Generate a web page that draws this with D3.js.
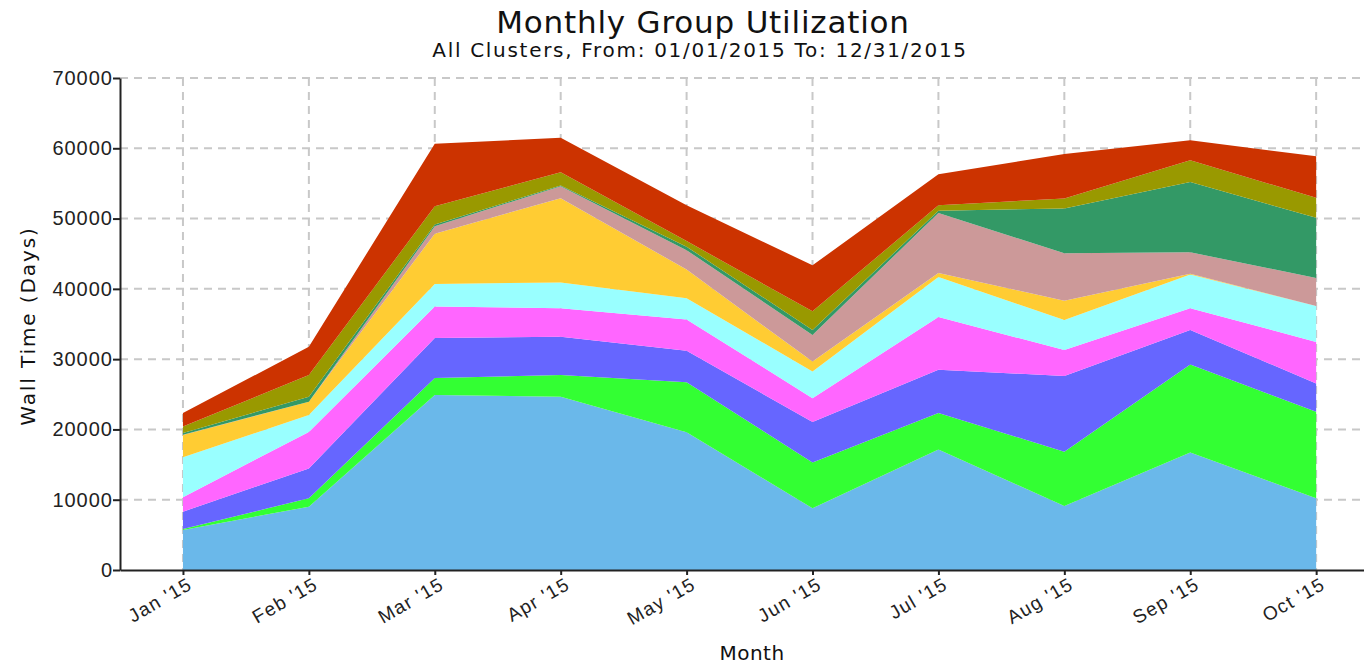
<!DOCTYPE html>
<html>
<head>
<meta charset="utf-8">
<script src="https://cdn.jsdelivr.net/npm/d3@7"></script>
<style>
  body { margin: 0; background: #fff; }
  svg { display: block; font-family: "DejaVu Sans", Verdana, sans-serif; }
  .grid line { stroke: #c8c8c8; stroke-width: 2; stroke-dasharray: 8,6; }
  .axis path, .axis line { stroke: #222; stroke-width: 2; }
  .axis text { fill: #222; }
</style>
</head>
<body>
<svg id="svg1" width="1364" height="667"></svg>
<script>
var months = ["Jan '15", "Feb '15", "Mar '15", "Apr '15", "May '15", "Jun '15", "Jul '15", "Aug '15", "Sep '15", "Oct '15"];
var yTicks = [0, 10000, 20000, 30000, 40000, 50000, 60000, 70000];

// one array per group, bottom of the stack first
var group1 = [5700, 9000, 24900, 24650, 19600, 8800, 17150, 9100, 16700, 10200];
var group2 = [150, 1200, 2400, 3100, 7100, 6500, 5200, 7730, 12550, 12300];
var group3 = [2450, 4250, 5700, 5450, 4500, 5750, 6150, 10770, 4900, 4050];
var group4 = [2050, 5200, 4500, 4050, 4450, 3400, 7500, 3690, 3100, 5900];
var group5 = [5700, 2400, 3200, 3650, 3000, 3800, 5700, 4270, 4800, 5100];
var group6 = [3150, 1900, 7150, 12000, 4100, 1400, 550, 2750, 100, 0];
var group7 = [50, 0, 1050, 1700, 2750, 3800, 8550, 6740, 3050, 4000];
var group8 = [250, 700, 250, 100, 500, 700, 300, 6400, 10000, 8550];
var group9 = [900, 3100, 2600, 1900, 800, 2650, 800, 1420, 3100, 2850];
var group10 = [1950, 4000, 8900, 4900, 5100, 6550, 4400, 6300, 2850, 5900];

var groups = [group1, group2, group3, group4, group5, group6, group7, group8, group9, group10];
var colors = ["#6ab8ea", "#33ff33", "#6666ff", "#ff66ff", "#99ffff", "#ffcc33", "#cc9999", "#339966", "#999900", "#cc3300"];

var marginLeft = 120;
var marginTop = 78;
var plotBottom = 570;

var svg = d3.select("#svg1");

var scaleX = d3.scaleLinear().domain([-0.5, 9.38]).range([marginLeft, 1364]);
var scaleY = d3.scaleLinear().domain([0, 70000]).range([plotBottom, marginTop]);

// turn the arrays into rows for d3.stack
var rows = months.map(function(m, i) {
    var row = { i: i };
    groups.forEach(function(g, k) { row["g" + k] = g[i]; });
    return row;
});
var keys = groups.map(function(g, k) { return "g" + k; });
var stacked = d3.stack().keys(keys)(rows);

// grid
var grid = svg.append("g").attr("class", "grid");
grid.selectAll(".hline")
    .data(yTicks.slice(1))
    .enter()
    .append("line")
      .attr("x1", marginLeft)
      .attr("x2", 1364)
      .attr("y1", function(d) { return scaleY(d); })
      .attr("y2", function(d) { return scaleY(d); });
grid.selectAll(".vline")
    .data(months)
    .enter()
    .append("line")
      .attr("x1", function(d, i) { return scaleX(i); })
      .attr("x2", function(d, i) { return scaleX(i); })
      .attr("y1", marginTop)
      .attr("y2", plotBottom);

var area = d3.area()
    .x(function(d) { return scaleX(d.data.i); })
    .y0(function(d) { return scaleY(d[0]); })
    .y1(function(d) { return scaleY(d[1]); });

svg.selectAll(".layer")
    .data(stacked)
    .enter()
    .append("path")
      .attr("class", "layer")
      .attr("d", area)
      .attr("fill", function(d, i) { return colors[i]; });

// axes
svg.append("g")
    .attr("class", "axis")
    .attr("transform", "translate(" + marginLeft + ",0)")
    .call(d3.axisLeft(scaleY).tickValues(yTicks).tickSize(7).tickSizeOuter(0).tickFormat(d3.format("d")))
    .selectAll("text")
      .style("font-size", "20px")
      .style("letter-spacing", "1px")
      .attr("x", -7);

var xAxis = svg.append("g")
    .attr("class", "axis")
    .attr("transform", "translate(0," + plotBottom + ")")
    .call(d3.axisBottom(scaleX).tickValues(d3.range(months.length)).tickSize(5).tickSizeOuter(0)
        .tickFormat(function(d) { return months[d]; }));

xAxis.selectAll("text")
    .style("font-size", "19px")
    .style("letter-spacing", "1.3px")
    .attr("text-anchor", "end")
    .attr("dy", 0)
    .attr("y", 0)
    .attr("transform", "translate(10,18) rotate(-30)");

// titles
svg.append("text")
    .attr("x", 703)
    .attr("y", 33)
    .attr("text-anchor", "middle")
    .style("font-size", "31px")
    .style("letter-spacing", "0.8px")
    .attr("fill", "#111")
    .text("Monthly Group Utilization");

svg.append("text")
    .attr("x", 700)
    .attr("y", 57)
    .attr("text-anchor", "middle")
    .style("font-size", "20px")
    .style("letter-spacing", "1.7px")
    .attr("fill", "#111")
    .text("All Clusters, From: 01/01/2015 To: 12/31/2015");

svg.append("text")
    .attr("transform", "translate(35," + ((marginTop + plotBottom) / 2 + 2) + ") rotate(-90)")
    .attr("text-anchor", "middle")
    .style("font-size", "20px")
    .style("letter-spacing", "1.9px")
    .attr("fill", "#111")
    .text("Wall Time (Days)");

svg.append("text")
    .attr("x", 752)
    .attr("y", 660)
    .attr("text-anchor", "middle")
    .style("font-size", "20px")
    .style("letter-spacing", "0.5px")
    .attr("fill", "#111")
    .text("Month");
</script>
</body>
</html>
